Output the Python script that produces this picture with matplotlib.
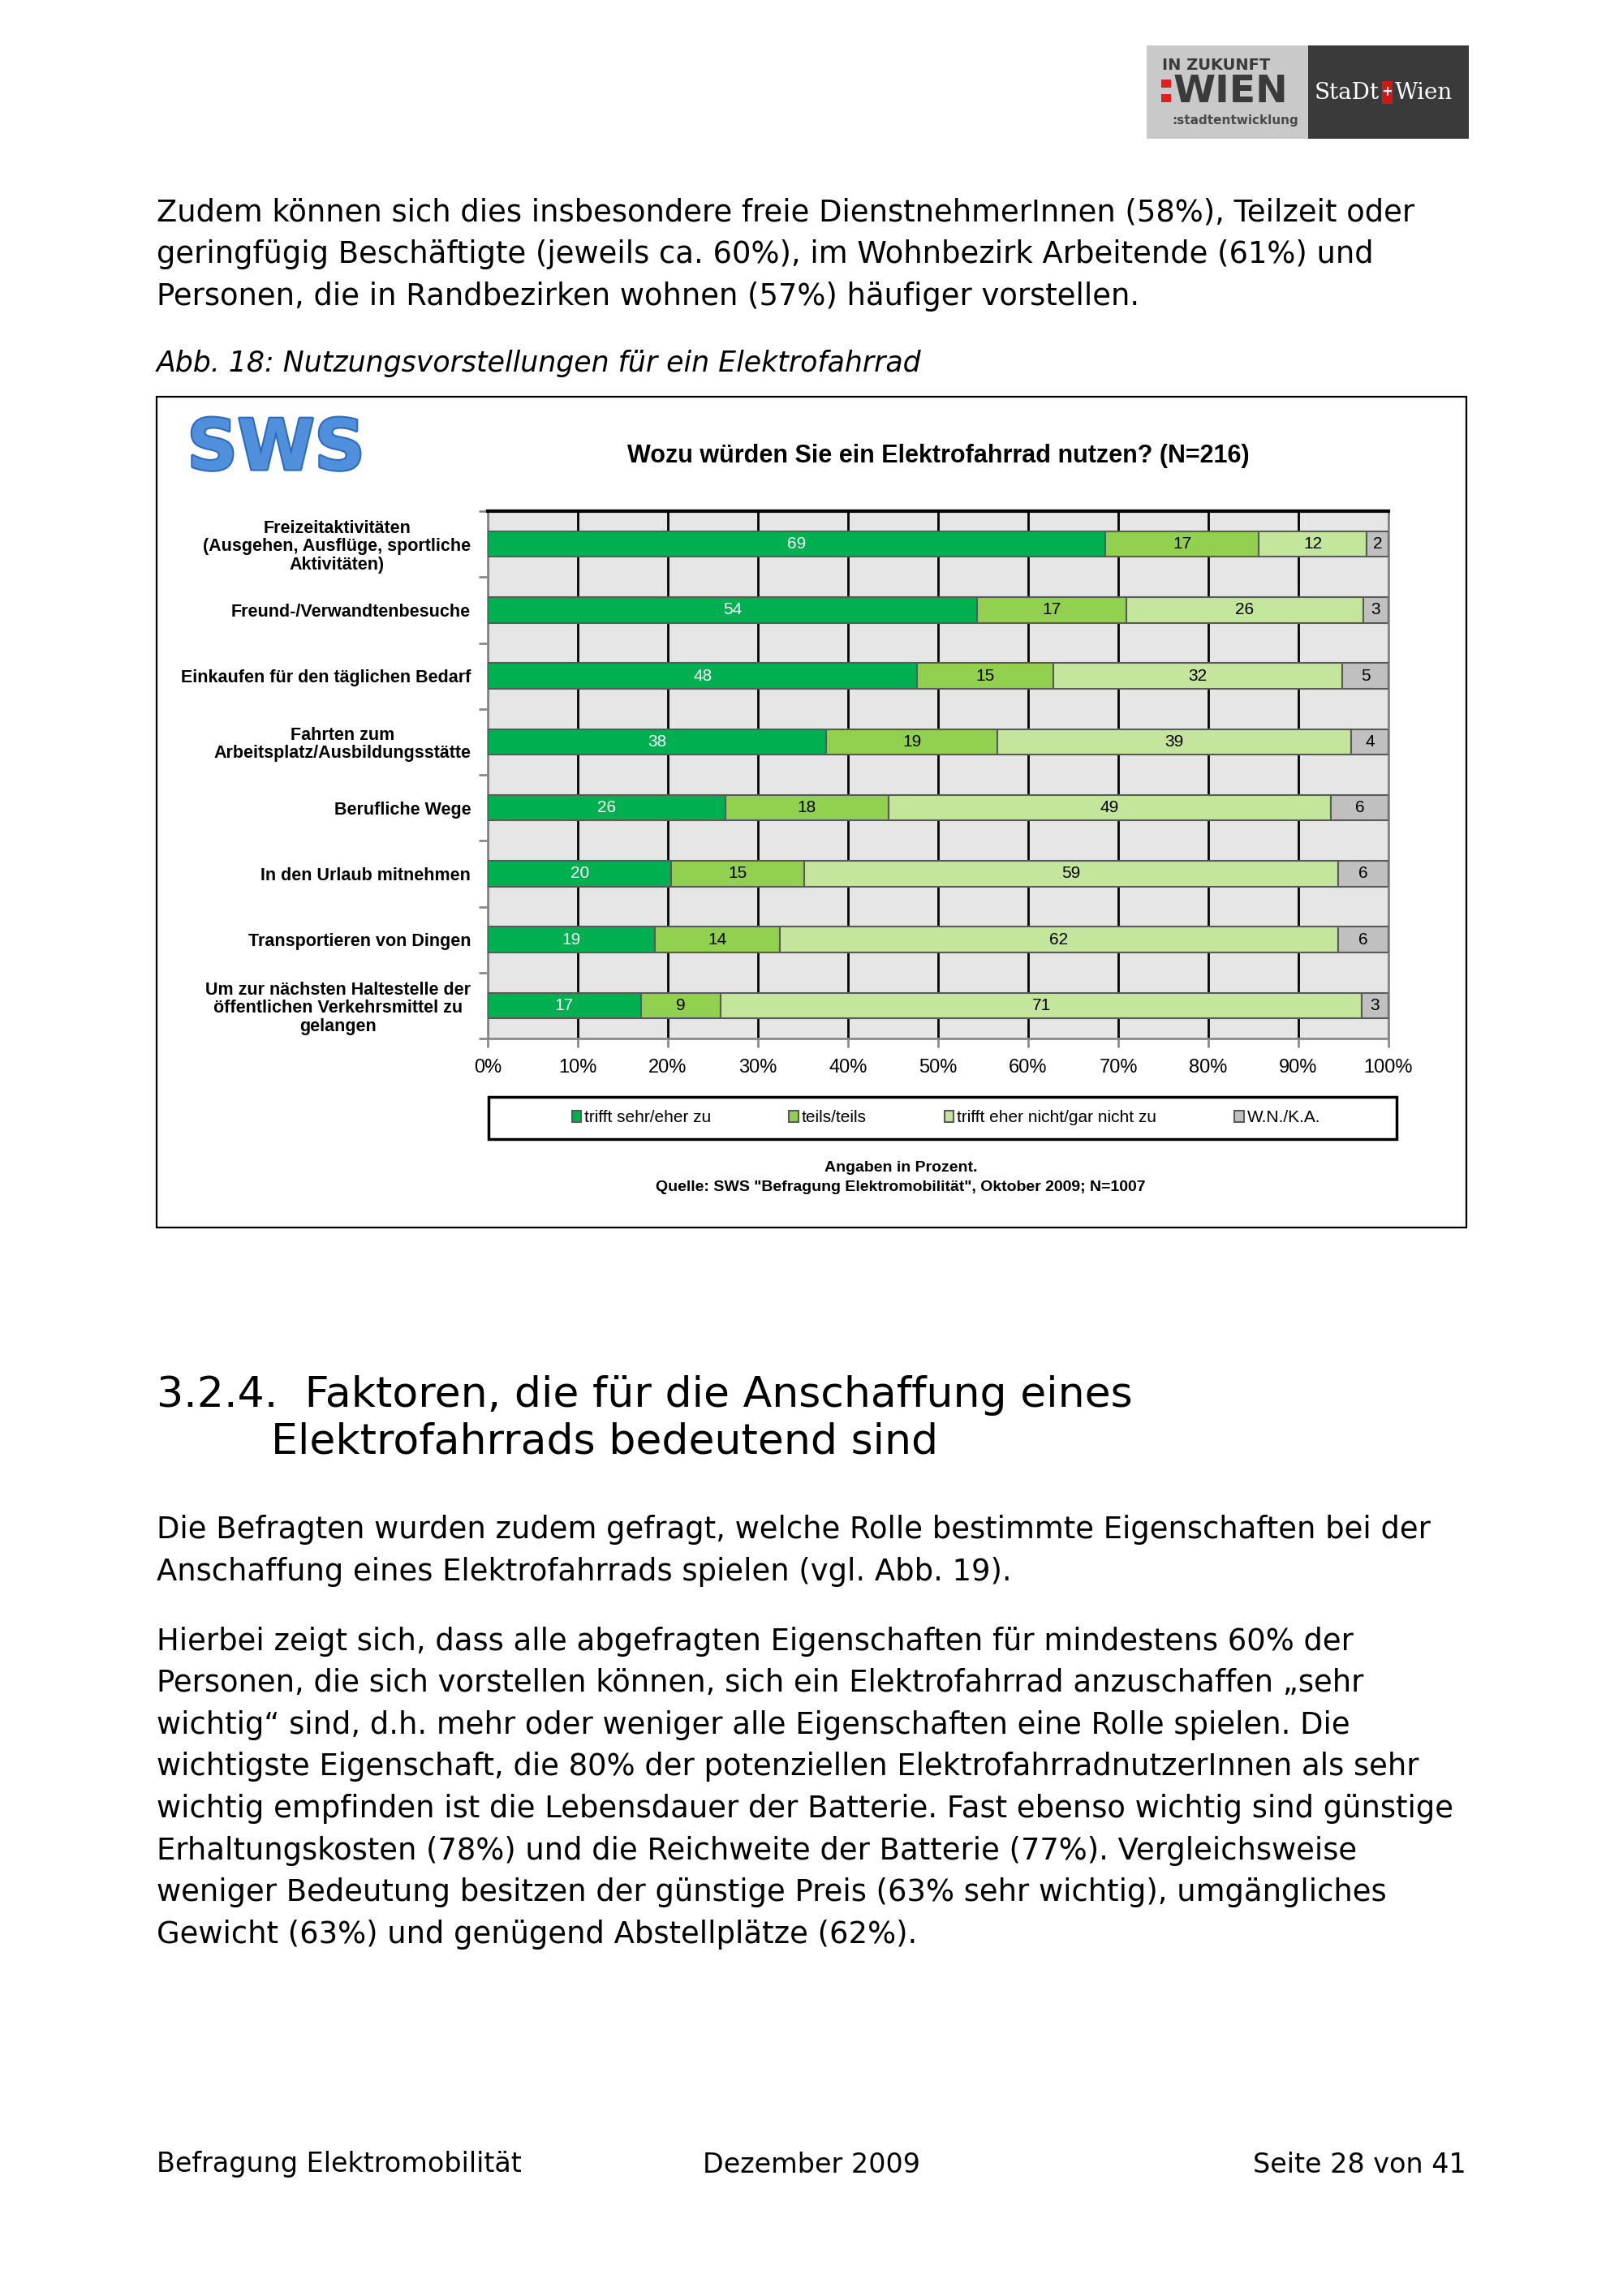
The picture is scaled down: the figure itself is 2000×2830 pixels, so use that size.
import matplotlib
matplotlib.use("Agg")
from matplotlib import pyplot as plt
from matplotlib import font_manager
from matplotlib import patheffects
from matplotlib.patches import Rectangle

# fonts: use narrow Arial-like face if it is installed
names = {f.name for f in font_manager.fontManager.ttflist}
NARROW = "Liberation Sans Narrow" if "Liberation Sans Narrow" in names else "Liberation Sans"
ARIAL = "Liberation Sans"
BODY = "DejaVu Sans"

# chart data (percent; labels show rounded values)
categories = [
    "Freizeitaktivitäten\n(Ausgehen, Ausflüge, sportliche\nAktivitäten)",
    "Freund-/Verwandtenbesuche",
    "Einkaufen für den täglichen Bedarf",
    "Fahrten zum\nArbeitsplatz/Ausbildungsstätte",
    "Berufliche Wege",
    "In den Urlaub mitnehmen",
    "Transportieren von Dingen",
    "Um zur nächsten Haltestelle der\nöffentlichen Verkehrsmittel zu\ngelangen",
]
sehr_eher = [68.6, 54.3, 47.7, 37.6, 26.4, 20.4, 18.6, 17.0]
teils = [17.0, 16.6, 15.1, 19.0, 18.1, 14.7, 13.8, 8.9]
eher_nicht = [12.0, 26.3, 32.1, 39.3, 49.1, 59.3, 62.0, 71.1]
wn_ka = [2.4, 2.8, 5.1, 4.1, 6.4, 5.6, 5.6, 3.0]
series_names = ["trifft sehr/eher zu", "teils/teils", "trifft eher nicht/gar nicht zu", "W.N./K.A."]
colors = ["#00b050", "#92d050", "#c4e59c", "#c0c0c0"]
label_colors = ["white", "black", "black", "black"]
x_ticks = list(range(0, 101, 10))

para1 = [
    "Zudem können sich dies insbesondere freie DienstnehmerInnen (58%), Teilzeit oder",
    "geringfügig Beschäftigte (jeweils ca. 60%), im Wohnbezirk Arbeitende (61%) und",
    "Personen, die in Randbezirken wohnen (57%) häufiger vorstellen.",
]
para2 = [
    "Die Befragten wurden zudem gefragt, welche Rolle bestimmte Eigenschaften bei der",
    "Anschaffung eines Elektrofahrrads spielen (vgl. Abb. 19).",
]
para3 = [
    "Hierbei zeigt sich, dass alle abgefragten Eigenschaften für mindestens 60% der",
    "Personen, die sich vorstellen können, sich ein Elektrofahrrad anzuschaffen „sehr",
    "wichtig“ sind, d.h. mehr oder weniger alle Eigenschaften eine Rolle spielen. Die",
    "wichtigste Eigenschaft, die 80% der potenziellen ElektrofahrradnutzerInnen als sehr",
    "wichtig empfinden ist die Lebensdauer der Batterie. Fast ebenso wichtig sind günstige",
    "Erhaltungskosten (78%) und die Reichweite der Batterie (77%). Vergleichsweise",
    "weniger Bedeutung besitzen der günstige Preis (63% sehr wichtig), umgängliches",
    "Gewicht (63%) und genügend Abstellplätze (62%).",
]

W, H = 2000, 2830
fig = plt.figure(figsize=(20, 28.3), dpi=100)


def fx(px):
    return px / W


def fy(py):
    return 1 - py / H


def fig_rect(x0, y0, x1, y1, **kw):
    r = Rectangle((fx(x0), fy(y1)), (x1 - x0) / W, (y1 - y0) / H,
                  transform=fig.transFigure, **kw)
    fig.patches.append(r)
    return r


# --- header logo ---
fig_rect(1413, 56, 1612, 171, facecolor="#c9c9c9", edgecolor="none")
fig_rect(1612, 56, 1810, 171, facecolor="#3a3a3a", edgecolor="none")
fig.text(fx(1432), fy(80), "IN ZUKUNFT", fontsize=14, fontweight="bold",
         color="#3a3a3a", family=BODY, va="center")
fig_rect(1431, 98, 1443, 108, facecolor="#e02020", edgecolor="none")
fig_rect(1431, 116, 1443, 126, facecolor="#e02020", edgecolor="none")
fig.text(fx(1446), fy(113), "WIEN", fontsize=34, fontweight="bold",
         color="#3a3a3a", family=BODY, va="center")
fig.text(fx(1444), fy(148), ":stadtentwicklung", fontsize=11, fontweight="bold",
         color="#4a4a4a", family=BODY, va="center")
fig.text(fx(1700), fy(114), "StaDt", fontsize=20, color="white",
         family="DejaVu Serif", va="center", ha="right")
fig_rect(1703, 100, 1716, 128, facecolor="#d01818", edgecolor="none")
fig.text(fx(1709.5), fy(113), "+", fontsize=12, color="white", family=BODY,
         va="center", ha="center", fontweight="bold")
fig.text(fx(1719), fy(114), "Wien", fontsize=20, color="white",
         family="DejaVu Serif", va="center", ha="left")

# --- body text ---
for i, line in enumerate(para1):
    fig.text(fx(193), fy(262 + i * 51.5), line, fontsize=26.6, family=BODY, va="center")
fig.text(fx(193), fy(448), "Abb. 18: Nutzungsvorstellungen für ein Elektrofahrrad",
         fontsize=25, family=BODY, style="italic", va="center")

# --- chart frame ---
fig_rect(193, 489, 1807, 1513, fill=False, edgecolor="black", lw=1.6)
fig.text(fx(340), fy(555), "SWS", fontsize=62, fontweight="heavy",
         color="#4f8fdc", family=BODY, va="center", ha="center",
         path_effects=[patheffects.withStroke(linewidth=3, foreground="#2c6bbd")])
fig.text(fx(1156), fy(562), "Wozu würden Sie ein Elektrofahrrad nutzen? (N=216)",
         fontsize=22, fontweight="bold", family=NARROW, va="center", ha="center")

ax = fig.add_axes([fx(601), fy(1280), (1711 - 601) / W, (1280 - 630) / H])
ax.set_facecolor("#e6e6e6")
ypos = list(range(len(categories)))
left = [0.0] * len(categories)
containers = []
for vals, col, lcol in zip([sehr_eher, teils, eher_nicht, wn_ka], colors, label_colors):
    bars = ax.barh(ypos, vals, left=left, height=0.39, color=col,
                   edgecolor="#5a5a5a", linewidth=1.5, zorder=3)
    ax.bar_label(bars, fmt="%.0f", label_type="center", color=lcol,
                 fontsize=15, family=NARROW, zorder=4)
    containers.append(bars)
    left = [a + b for a, b in zip(left, vals)]

ax.set_xlim(0, 100)
ax.set_ylim(len(categories) - 0.5, -0.5)
ax.set_xticks(x_ticks)
ax.set_xticklabels([f"{t}%" for t in x_ticks], fontsize=17, family=NARROW)
ax.xaxis.grid(True, color="black", linewidth=2)
ax.set_axisbelow(True)
ax.tick_params(axis="x", direction="out", length=8, width=2, color="#8a8a8a", pad=10)

ax.set_yticks(ypos)
ax.set_yticklabels(categories, fontsize=15.5, fontweight="bold", family=ARIAL,
                   linespacing=1.1)
for lab in ax.get_yticklabels():
    lab.set_multialignment("center")
ax.set_yticks([i - 0.5 for i in range(len(categories) + 1)], minor=True)
ax.tick_params(axis="y", which="major", length=0, pad=15)
ax.tick_params(axis="y", which="minor", length=8, width=2, color="#8a8a8a", direction="out")

ax.spines["top"].set_color("black")
ax.spines["top"].set_linewidth(3)
for side in ["left", "bottom", "right"]:
    ax.spines[side].set_color("#8a8a8a")
    ax.spines[side].set_linewidth(2)

# legend: box drawn separately, entries grouped in the middle like the original
fig_rect(602, 1352, 1721, 1404, fill=False, edgecolor="black", lw=2.5)
fig.legend(containers, series_names, ncol=4, loc="center",
           bbox_to_anchor=(fx(1166), fy(1378)), frameon=False,
           prop={"family": NARROW, "size": 15}, handlelength=0.55, handleheight=0.65,
           handletextpad=0.2, columnspacing=4.6)

fig.text(fx(1110), fy(1440), "Angaben in Prozent.", fontsize=14, fontweight="bold",
         family=NARROW, ha="center", va="center")
fig.text(fx(1110), fy(1464), "Quelle: SWS \"Befragung Elektromobilität\", Oktober 2009; N=1007",
         fontsize=14, fontweight="bold", family=NARROW, ha="center", va="center")

# --- section heading and following text ---
fig.text(fx(193), fy(1720), "3.2.4.  Faktoren, die für die Anschaffung eines",
         fontsize=37.5, family=BODY, va="center")
fig.text(fx(334), fy(1778), "Elektrofahrrads bedeutend sind",
         fontsize=37.5, family=BODY, va="center")
for i, line in enumerate(para2):
    fig.text(fx(193), fy(1886 + i * 52), line, fontsize=26.6, family=BODY, va="center")
for i, line in enumerate(para3):
    fig.text(fx(193), fy(2023 + i * 51.6), line, fontsize=26.6, family=BODY, va="center")

# --- footer ---
fig.text(fx(193), fy(2668), "Befragung Elektromobilität", fontsize=24, family=BODY, va="center")
fig.text(fx(1000), fy(2668), "Dezember 2009", fontsize=24, family=BODY, va="center", ha="center")
fig.text(fx(1807), fy(2668), "Seite 28 von 41", fontsize=24, family=BODY, va="center", ha="right")

fig.savefig("out.png", dpi=100, facecolor="white")
